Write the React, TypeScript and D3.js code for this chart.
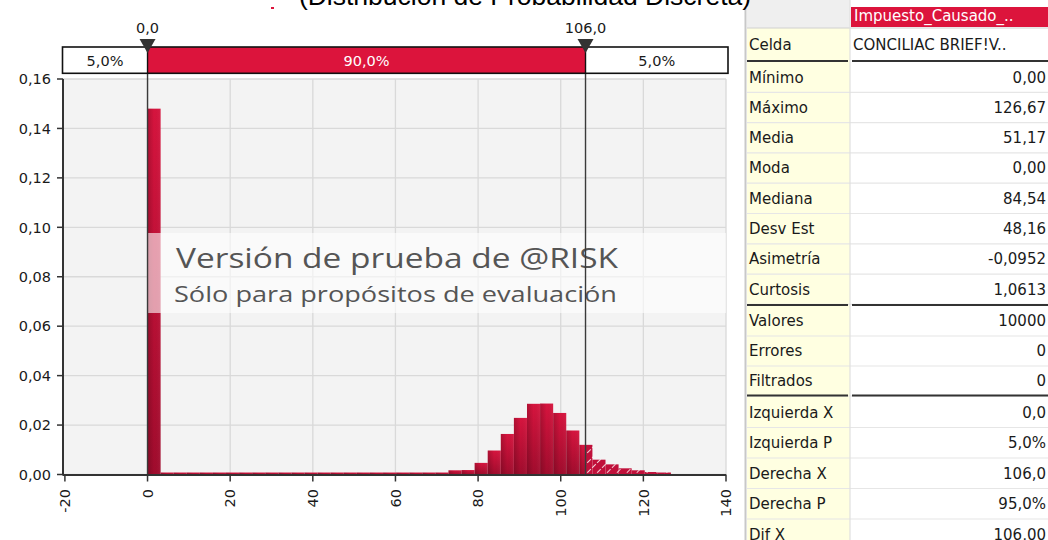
import React from "react";
import * as d3 from "d3";

// ---------- data ----------
const TITLE = "(Distribución de Probabilidad Discreta)";
const DATA_MIN = 0;
const DATA_MAX = 126.67;
const binValues = [
  0.148,
  0.0008, 0.0008, 0.0008, 0.0008, 0.0008, 0.0008, 0.0008, 0.0008, 0.0008, 0.0008, 0.0008,
  0.0008, 0.0008, 0.0008, 0.0008, 0.0008, 0.0008, 0.0008, 0.0008, 0.0008, 0.0008, 0.0008,
  0.0017, 0.0018, 0.0047, 0.0097, 0.0164, 0.0229, 0.0286, 0.0287, 0.0249, 0.0178, 0.012,
  0.006, 0.0041, 0.0025, 0.0017, 0.001, 0.0008,
];
const xTicks = [-20, 0, 20, 40, 60, 80, 100, 120, 140];
const yTicks = [0, 0.02, 0.04, 0.06, 0.08, 0.1, 0.12, 0.14, 0.16];
const leftX = 0.0;
const rightX = 106.0;
const segmentPercents = [5.0, 90.0, 5.0];
const watermarkLines = ["Versión de prueba de @RISK", "Sólo para propósitos de evaluación"];

const headerName = "Impuesto_Causado_..";
const cellLabel = "Celda";
const cellValue = "CONCILIAC BRIEF!V..";
const statGroups = [
  [
    ["Mínimo", "0,00"],
    ["Máximo", "126,67"],
    ["Media", "51,17"],
    ["Moda", "0,00"],
    ["Mediana", "84,54"],
    ["Desv Est", "48,16"],
    ["Asimetría", "-0,0952"],
    ["Curtosis", "1,0613"],
  ],
  [
    ["Valores", "10000"],
    ["Errores", "0"],
    ["Filtrados", "0"],
  ],
  [
    ["Izquierda X", "0,0"],
    ["Izquierda P", "5,0%"],
    ["Derecha X", "106,0"],
    ["Derecha P", "95,0%"],
    ["Dif X", "106,00"],
  ],
];

// ---------- helpers ----------
const comma = (s: string) => s.replace(".", ",");
const fmt1 = (v: number) => comma(d3.format(".1f")(v));
const fmt2 = (v: number) => comma(d3.format(".2f")(v));
const fmtInt = (v: number) => String(Math.round(v));

const FONT = "'DejaVu Sans', Tahoma, sans-serif";
const RED = "#dc143c";

export default function App() {
  const W = 1048;
  const H = 540;
  const plot = { left: 63, right: 726, top: 79, bottom: 474.5 };
  const x = d3.scaleLinear().domain([-20, 140]).range([64.9, 726]);
  const y = d3.scaleLinear().domain([0, 0.16]).range([plot.bottom, plot.top]);

  const binW = (DATA_MAX - DATA_MIN) / binValues.length;
  const bins = binValues.map((v, i) => ({ x0: DATA_MIN + i * binW, x1: DATA_MIN + (i + 1) * binW, v }));

  const bar = { top: 47, bottom: 73.3, left: 62.5, right: 728 };
  const segEdges = [bar.left, x(leftX), x(rightX), bar.right];

  // table layout
  const tX0 = 747;
  const tDiv = 850;
  const tX1 = 1048;
  const rows: { label: string; value: string; y0: number; y1: number }[] = [];
  const groupStarts = [62, 306, 397];
  const groupRowH = [30.3, 30, 30.5];
  statGroups.forEach((g, gi) => {
    g.forEach(([label, value], ri) => {
      const y0 = groupStarts[gi] + ri * groupRowH[gi];
      rows.push({ label, value, y0, y1: y0 + groupRowH[gi] });
    });
  });
  const separators = [61, 305, 395.5];

  return (
    <div style={{ position: "absolute", left: 0, top: 0 }}>
      <svg width={W} height={H} style={{ display: "block", background: "#fff" }} fontFamily={FONT}>
        <defs>
          <linearGradient id="barGrad" x1="0" y1="0" x2="0" y2="1">
            <stop offset="0" stopColor="#d6143e" />
            <stop offset="1" stopColor="#a00c2d" />
          </linearGradient>
          <linearGradient id="barGradH" x1="0" y1="0" x2="1" y2="0">
            <stop offset="0" stopColor="#000" stopOpacity="0.18" />
            <stop offset="0.5" stopColor="#000" stopOpacity="0" />
            <stop offset="1" stopColor="#fff" stopOpacity="0.05" />
          </linearGradient>
          <pattern id="hatch" patternUnits="userSpaceOnUse" width="7" height="7" patternTransform="rotate(45)">
            <rect width="7" height="7" fill="#c0103a" />
            <line x1="0" y1="0" x2="0" y2="7" stroke="#fff" strokeWidth="1.6" strokeDasharray="3 2" />
          </pattern>
          <clipPath id="plotClip">
            <rect x={plot.left} y={plot.top} width={plot.right - plot.left} height={plot.bottom - plot.top} />
          </clipPath>
        </defs>

        <rect x={271} y={7} width={3} height={2} fill={RED} />

        {/* plot background */}
        <rect x={plot.left} y={plot.top} width={plot.right - plot.left} height={plot.bottom - plot.top} fill="#f3f3f3" />

        {/* grid */}
        {yTicks.map((t) => (
          <line key={"gy" + t} x1={plot.left} x2={plot.right} y1={y(t)} y2={y(t)} stroke="#d9d9d9" strokeWidth={1.3} />
        ))}
        {xTicks.filter((t) => t > -20).map((t) => (
          <line key={"gx" + t} x1={x(t)} x2={x(t)} y1={plot.top} y2={plot.bottom} stroke="#d9d9d9" strokeWidth={1.3} />
        ))}

        {/* bars */}
        <g clipPath="url(#plotClip)">
          {bins.map((b, i) => {
            const bx0 = x(b.x0);
            const bx1 = x(b.x1);
            const by = y(b.v);
            const h = plot.bottom - by;
            const split = Math.min(Math.max(x(rightX), bx0), bx1);
            return (
              <g key={"b" + i}>
                {split > bx0 && (
                  <>
                    <rect x={bx0} y={by} width={split - bx0} height={h} fill="url(#barGrad)" />
                    <rect x={bx0} y={by} width={split - bx0} height={h} fill="url(#barGradH)" />
                  </>
                )}
                {bx1 > split && <rect x={split} y={by} width={bx1 - split} height={h} fill="url(#hatch)" />}
              </g>
            );
          })}
        </g>

        {/* watermark */}
        <rect x={147} y={233} width={plot.right - 147} height={80} fill="#ffffff" fillOpacity={0.6} />
        <text x={176} y={268} fontSize={28} fontFamily="'Open Sans', sans-serif" fill="#555" textLength={442} lengthAdjust="spacingAndGlyphs">
          {watermarkLines[0]}
        </text>
        <text x={174} y={302} fontSize={21.5} fontFamily="'Open Sans', sans-serif" fill="#555" textLength={443} lengthAdjust="spacingAndGlyphs">
          {watermarkLines[1]}
        </text>

        {/* marker lines */}
        {[leftX, rightX].map((v) => (
          <line key={"ml" + v} x1={x(v)} x2={x(v)} y1={52} y2={plot.bottom} stroke="#3a3a3a" strokeWidth={1.4} />
        ))}

        {/* axes */}
        <line x1={plot.left} x2={plot.left} y1={plot.top} y2={plot.bottom + 1} stroke="#333" strokeWidth={2} />
        <line x1={plot.left} x2={plot.right} y1={plot.bottom + 0.5} y2={plot.bottom + 0.5} stroke="#333" strokeWidth={2} />
        {yTicks.map((t) => (
          <g key={"yt" + t}>
            <line x1={57} x2={plot.left} y1={y(t)} y2={y(t)} stroke="#333" strokeWidth={1.5} />
            <text x={51} y={y(t)} dy="0.36em" fontSize={14.5} textAnchor="end" fill="#1a1a1a">
              {fmt2(t)}
            </text>
          </g>
        ))}
        {xTicks.map((t) => (
          <g key={"xt" + t}>
            <line x1={x(t)} x2={x(t)} y1={plot.bottom} y2={plot.bottom + 7} stroke="#333" strokeWidth={1.5} />
            <text
              transform={`translate(${x(t)},489) rotate(-90)`}
              dy="0.36em"
              fontSize={14.5}
              textAnchor="end"
              fill="#1a1a1a"
            >
              {fmtInt(t)}
            </text>
          </g>
        ))}

        {/* top percentile bar */}
        <rect x={bar.left} y={bar.top} width={bar.right - bar.left} height={bar.bottom - bar.top} fill="#fff" />
        <rect x={segEdges[1]} y={bar.top} width={segEdges[2] - segEdges[1]} height={bar.bottom - bar.top} fill={RED} />
        <rect x={bar.left} y={bar.top} width={bar.right - bar.left} height={bar.bottom - bar.top} fill="none" stroke="#111" strokeWidth={1.6} />
        {[leftX, rightX].map((v) => (
          <line key={"sl" + v} x1={x(v)} x2={x(v)} y1={bar.top} y2={bar.bottom} stroke="#111" strokeWidth={1.4} />
        ))}
        {segmentPercents.map((p, i) => (
          <text
            key={"sp" + i}
            x={(segEdges[i] + segEdges[i + 1]) / 2}
            y={66}
            fontSize={14.5}
            textAnchor="middle"
            fill={i === 1 ? "#fff" : "#1a1a1a"}
          >
            {fmt1(p) + "%"}
          </text>
        ))}
        {[leftX, rightX].map((v) => (
          <g key={"mk" + v}>
            <path d={`M${x(v) - 8},39 L${x(v) + 8},39 L${x(v)},53 Z`} fill="#333" />
            <text x={x(v)} y={33} fontSize={14.5} textAnchor="middle" fill="#1a1a1a">
              {fmt1(v)}
            </text>
          </g>
        ))}

        {/* stats table */}
        <rect x={744.5} y={8} width={2} height={H} fill="#c8c8c8" />
        <rect x={tX0} y={0} width={tDiv - tX0} height={28} fill="#efefef" />
        <rect x={tDiv + 1} y={7} width={tX1 - tDiv - 1} height={20} fill={RED} />
        <text x={tDiv + 4} y={21} fontSize={15} fill="#fff">
          {headerName}
        </text>
        <rect x={tX0} y={28} width={tDiv - tX0} height={H - 28} fill="#ffffe1" />
        <line x1={tX0} x2={tX1} y1={28} y2={28} stroke="#d0d0d0" strokeWidth={1} />
        <text x={749} y={50} fontSize={15} fill="#1a1a1a">
          {cellLabel}
        </text>
        <text x={tDiv + 3} y={50} fontSize={15} fill="#1a1a1a">
          {cellValue}
        </text>
        {rows.map((r, i) => (
          <g key={"r" + i}>
            <line x1={tX0} x2={tX1} y1={r.y1} y2={r.y1} stroke="#e6e6e6" strokeWidth={1.2} />
            <text x={749} y={(r.y0 + r.y1) / 2} dy="0.36em" fontSize={15} fill="#1a1a1a">
              {r.label}
            </text>
            <text x={1046} y={(r.y0 + r.y1) / 2} dy="0.36em" fontSize={15} textAnchor="end" fill="#1a1a1a">
              {r.value}
            </text>
          </g>
        ))}
        <line x1={tDiv} x2={tDiv} y1={0} y2={H} stroke="#e0e0e0" strokeWidth={1.2} />
        {separators.map((s) => (
          <g key={"sep" + s}>
            <line x1={tX0} x2={tDiv - 2} y1={s} y2={s} stroke="#333" strokeWidth={2} />
            <line x1={tDiv + 2} x2={tX1} y1={s} y2={s} stroke="#333" strokeWidth={2} />
          </g>
        ))}

        {/* title (cut at top, drawn over the table edge) */}
        <text x={525} y={5} fontSize={26.5} fontFamily="'Liberation Sans', Arial, sans-serif" textAnchor="middle" fill="#000">
          {TITLE}
        </text>
      </svg>
    </div>
  );
}
